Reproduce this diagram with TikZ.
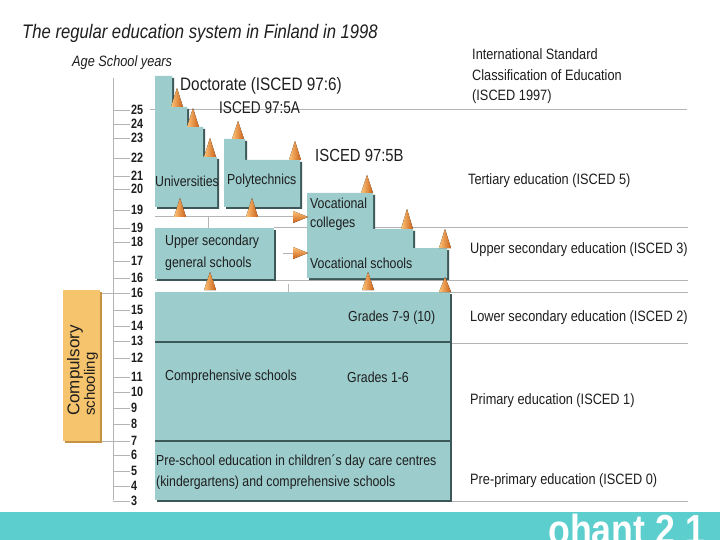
\documentclass[tikz,border=0pt]{standalone}
\usepackage{fontspec}
\setmainfont{Liberation Sans}
\newfontfamily\nar{Liberation Sans}[FakeStretch=0.85]
\newfontfamily\narr{Liberation Sans}[FakeStretch=0.8]
\definecolor{teal1}{RGB}{156,204,204}
\definecolor{tshadow}{RGB}{60,88,88}
\definecolor{gline}{RGB}{180,180,180}
\definecolor{comp}{RGB}{246,196,108}
\definecolor{compsh}{RGB}{196,146,66}
\definecolor{barc}{RGB}{92,206,206}
\definecolor{coneL}{RGB}{252,196,120}
\definecolor{coneR}{RGB}{204,96,24}
\definecolor{txt}{RGB}{30,30,30}
\newcommand\mycone[3]{\fill[left color=coneL,right color=coneR] ({#1-6},{#2}) -- ({#1},{#2-#3}) -- ({#1+6},{#2}) -- cycle;}
\newcommand\myarrowr[2]{\fill[top color=coneL,bottom color=coneR] ({#1-15},{#2-6}) -- ({#1},{#2}) -- ({#1-15},{#2+6}) -- cycle;}
\newcommand\myblock[1]{\fill[tshadow,shift={(2,2)}] #1; \fill[teal1] #1;}
\tikzset{
  gl/.style={draw=gline, line width=0.8pt},
  inner/.style={draw=tshadow, line width=1.2pt},
  lbl/.style={anchor=west, inner sep=0, text=txt, font={\nar\fontsize{14.5}{16}\selectfont}},
  rlbl/.style={anchor=west, inner sep=0, text=txt, font={\nar\fontsize{15}{16}\selectfont}},
  hlbl/.style={anchor=west, inner sep=0, text=txt, font={\nar\fontsize{15}{16}\selectfont}},
  num/.style={anchor=west, inner sep=0, text=txt, font={\narr\bfseries\fontsize{13.5}{13}\selectfont}},
}
\begin{document}
\begin{tikzpicture}[x=1pt,y=-1pt]
\useasboundingbox (0,0) rectangle (720,540);
\fill[white] (0,0) rectangle (720,540);

% title
\node[anchor=west,inner sep=0,text=txt,font={\nar\itshape\fontsize{19.6}{22}\selectfont}] (title) at (22,33) {The regular education system in Finland in 1998};
\node[anchor=west,inner sep=0,text=txt,font={\nar\itshape\fontsize{15}{16}\selectfont}] (age) at (72,63) {Age School years};

% grid lines
\draw[gl] (150,109) -- (687,109);
\draw[gl] (155,216) -- (295,216);
\draw[gl] (208,216) -- (208,228);
\draw[gl] (274,227) -- (688,227);
\draw[gl] (283,253) -- (295,253);
\draw[gl] (155,280) -- (688,280);
\draw[gl] (100,293) -- (113,293);
\draw[gl] (440,292) -- (688,292);
\draw[gl] (288,284) -- (288,292);
\draw[gl] (450,343) -- (688,343);
\draw[gl] (100,441) -- (113,441);
\draw[gl] (450,501) -- (688,501);

% axis
\draw[gl] (113,78) -- (113,500);
\foreach \n/\y in {25/110,24/124,23/138,22/158,21/176,20/189,19/210,19/228,18/242,17/261,16/278,16/293,15/310,14/326,13/341,12/358,11/377,10/392,9/408,8/424,7/441,6/455,5/471,4/486,3/501}{
  \draw[gl] (113,\y) -- (130,\y);
  \node[num] (n\y) at (131,\y) {\n};
}

% blocks
\myblock{(155,76) -- (172,76) -- (172,107) -- (187,107) -- (187,127) -- (203,127) -- (203,157) -- (217,157) -- (217,207) -- (155,207) -- cycle}
\myblock{(224,139) -- (245,139) -- (245,160) -- (300,160) -- (300,207) -- (224,207) -- cycle}
\myblock{(307,193) -- (373,193) -- (373,229) -- (413,229) -- (413,248) -- (447,248) -- (447,278) -- (307,278) -- cycle}
\myblock{(155,228) rectangle (274,279)}
\myblock{(155,292) rectangle (450,500)}
\draw[inner] (155,342) -- (450,342);
\draw[inner] (155,441) -- (450,441);

% cones
\mycone{177}{107}{19}
\mycone{193}{127}{19}
\mycone{210}{157}{19}
\mycone{180}{217}{19}
\mycone{238}{139}{18}
\mycone{295}{160}{19}
\mycone{252}{217}{19}
\mycone{367}{193}{18}
\mycone{407}{229}{20}
\mycone{445}{248}{19}
\mycone{210}{290}{18}
\mycone{368}{290}{18}
\mycone{445}{292}{15}
\myarrowr{308}{217}
\myarrowr{308}{253}

% block labels
\node[lbl] (uni) at (155,181) {Universities};
\node[lbl] (poly) at (227,181) {Polytechnics};
\node[lbl] (vc1) at (310,203) {Vocational};
\node[lbl] (vc2) at (310,224) {colleges};
\node[lbl] (vs) at (310,263) {Vocational schools};
\node[lbl] (us1) at (165,242) {Upper secondary};
\node[lbl] (us2) at (165,264) {general schools};
\node[lbl] (g79) at (348,318) {Grades 7-9 (10)};
\node[lbl] (cs) at (165,377) {Comprehensive schools};
\node[lbl] (g16) at (347,377) {Grades 1-6};
\node[lbl] (ps1) at (156,462) {Pre-school education in children´s day care centres};
\node[lbl] (ps2) at (156,483) {(kindergartens) and comprehensive schools};

\node[anchor=west,inner sep=0,text=txt,font={\nar\fontsize{18}{20}\selectfont}] (doc) at (180,86) {Doctorate (ISCED 97:6)};
\node[anchor=west,inner sep=0,text=txt,font={\narr\fontsize{17}{18}\selectfont}] (i5a) at (219,108) {ISCED 97:5A};
\node[anchor=west,inner sep=0,text=txt,font={\nar\fontsize{17.5}{19}\selectfont}] (i5b) at (315,155) {ISCED 97:5B};

% right labels
\node[hlbl] (h1) at (472,54) {International Standard};
\node[hlbl] (h2) at (472,75) {Classification of Education};
\node[hlbl] (h3) at (472,97) {(ISCED 1997)};
\node[rlbl] (r5) at (468,181) {Tertiary education (ISCED 5)};
\node[rlbl] (r3) at (470,250) {Upper secondary education (ISCED 3)};
\node[rlbl] (r2) at (470,318) {Lower secondary education (ISCED 2)};
\node[rlbl] (r1) at (470,401) {Primary education (ISCED 1)};
\node[rlbl] (r0) at (470,481) {Pre-primary education (ISCED 0)};

% compulsory schooling
\fill[compsh] (65,292) rectangle (102,443);
\fill[comp] (63,290) rectangle (100,441);
\node[anchor=west,inner sep=0,rotate=90,text=txt,font={\fontsize{17}{18}\selectfont}] (comp1) at (75,416) {Compulsory};
\node[anchor=west,inner sep=0,rotate=90,text=txt,font={\fontsize{15}{16}\selectfont}] (comp2) at (91,416) {schooling};

% bottom bar
\fill[barc] (0,512) rectangle (720,540);
\node[anchor=base west,inner sep=0,text=white,font={\nar\bfseries\fontsize{42}{42}\selectfont}] (bar) at (548,544) {ohant 2 1};
\end{tikzpicture}
\end{document}
